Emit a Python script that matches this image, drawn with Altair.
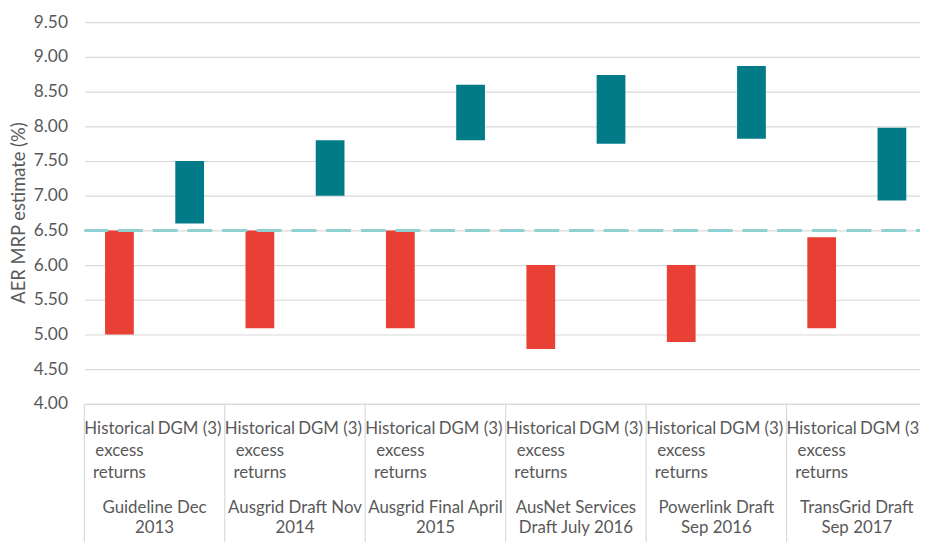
import altair as alt
import pandas as pd

# ---- data ----
groups = [
    "Guideline Dec\n2013",
    "Ausgrid Draft Nov\n2014",
    "Ausgrid Final April\n2015",
    "AusNet Services\nDraft July 2016",
    "Powerlink Draft\nSep 2016",
    "TransGrid Draft\nSep 2017",
]
sub_labels = ["Historical\n excess\n returns", "DGM (3)"]
series_names = ["Historical excess returns", "DGM (3)"]
hist_low = [5.00, 5.09, 5.09, 4.79, 4.89, 5.09]
hist_high = [6.50, 6.50, 6.50, 6.00, 6.00, 6.40]
dgm_low = [6.60, 7.00, 7.80, 7.75, 7.82, 6.93]
dgm_high = [7.50, 7.80, 8.60, 8.74, 8.87, 7.98]
reference_line = [6.5]
y_ticks = [4.0, 4.5, 5.0, 5.5, 6.0, 6.5, 7.0, 7.5, 8.0, 8.5, 9.0, 9.5]

RED = "#E84035"
TEAL = "#007B87"
DASH = "#8FD0D0"
GRID = "#D9D9D9"
TEXT = "#595959"
FONT = "Lato"

# ---- tables ----
rows = []
for g in range(len(groups)):
    rows.append({"pos": 2 * g + 0.5, "series": series_names[0], "low": hist_low[g], "high": hist_high[g]})
    rows.append({"pos": 2 * g + 1.5, "series": series_names[1], "low": dgm_low[g], "high": dgm_high[g]})
bars_df = pd.DataFrame(rows)

sub_df = pd.DataFrame([
    {"pos": 2 * g + k + 0.5, "label": sub_labels[k]}
    for g in range(len(groups)) for k in range(2)
])
grp_df = pd.DataFrame([{"pos": 2 * g + 1, "label": groups[g]} for g in range(len(groups))])
sep_df = pd.DataFrame({"pos": [2 * g for g in range(len(groups) + 1)]})
ref_df = pd.DataFrame({"v": reference_line})

XMAX = 11.9
xscale = alt.Scale(domain=[0, XMAX], nice=False, zero=False, padding=0)
yscale = alt.Scale(domain=[4, 9.5], nice=False, zero=False, padding=0)

x_axis = alt.Axis(labels=False, ticks=False, grid=False, domain=True,
                  domainColor=GRID, domainWidth=1.2, title=None)
y_axis = alt.Axis(values=y_ticks, format=".2f", grid=True, gridColor=GRID, gridWidth=1.2,
                  domain=False, ticks=False, labelPadding=17, labelFontSize=17.5,
                  labelColor=TEXT, labelFont=FONT, labelOverlap=False,
                  title="AER MRP estimate (%)", titleFont=FONT, titleFontSize=18.5,
                  titleFontWeight="normal", titleColor=TEXT,
                  titleX=-66, titleY=192, titleBaseline="middle")

X = alt.X("pos:Q", scale=xscale, axis=x_axis)

bars = alt.Chart(bars_df).mark_bar(size=29).encode(
    x=X,
    y=alt.Y("low:Q", scale=yscale, axis=y_axis),
    y2="high:Q",
    color=alt.Color("series:N", scale=alt.Scale(domain=series_names, range=[RED, TEAL]), legend=None),
)

ref = alt.Chart(ref_df).mark_rule(strokeDash=[25, 10], strokeDashOffset=21, strokeWidth=3, color=DASH).encode(
    y=alt.Y("v:Q", scale=yscale, axis=y_axis)
)

seps = alt.Chart(sep_df).mark_rule(color=GRID, strokeWidth=1.2).encode(
    x=X,
    y=alt.value(385),
    y2=alt.value(545),
)

sub_text = alt.Chart(sub_df).mark_text(
    align="center", baseline="alphabetic", lineBreak="\n", lineHeight=22.5,
    fontSize=17, font=FONT, color=TEXT
).encode(x=X, y=alt.value(415), text="label:N")

grp_text = alt.Chart(grp_df).mark_text(
    align="center", baseline="alphabetic", lineBreak="\n", lineHeight=20.5,
    fontSize=17, font=FONT, color=TEXT
).encode(x=X, y=alt.value(495), text="label:N")

chart = alt.layer(bars, ref, seps, sub_text, grp_text).properties(
    width=843, height=385,
    padding={"left": 77, "top": 12, "right": 0, "bottom": 137},
    autosize=alt.AutoSizeParams(type="none"),
).configure_view(stroke=None)

chart.save("out.html", embed_options={"renderer": "svg", "actions": False})
